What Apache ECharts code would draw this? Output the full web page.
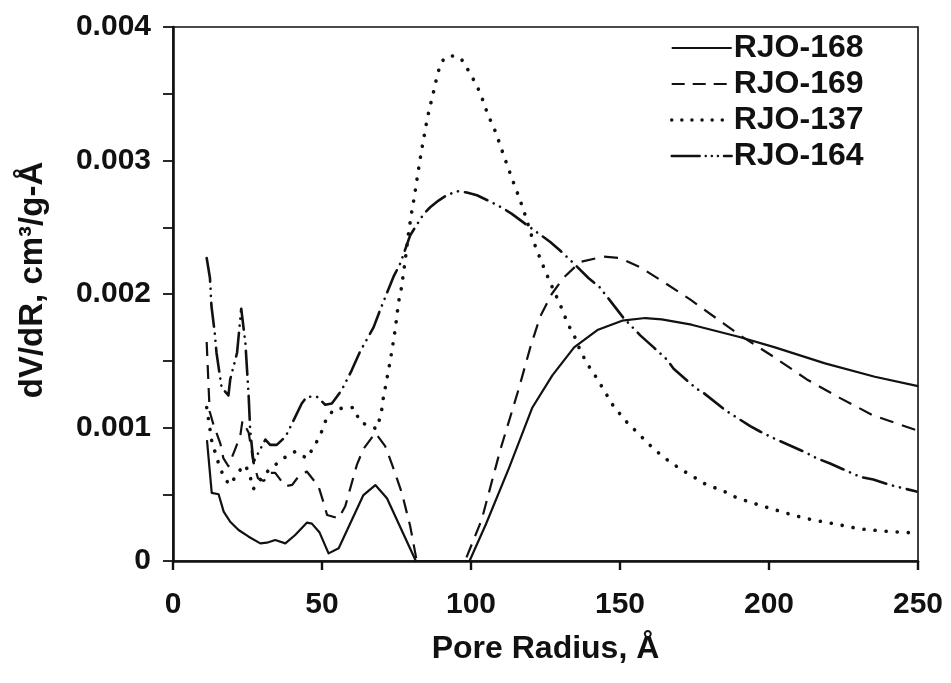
<!DOCTYPE html>
<html>
<head>
<meta charset="utf-8">
<script src="https://cdn.jsdelivr.net/npm/echarts@6/dist/echarts.min.js"></script>
<style>
  html, body { margin: 0; padding: 0; background: #fff; }
  #chart { width: 951px; height: 683px; }
</style>
</head>
<body>
<div id="chart"></div>
<script>
// Pore size distributions: pore radius (Å) and dV/dR (cm3/g-Å) for each sample.
const seriesNames = ['RJO-168', 'RJO-169', 'RJO-137', 'RJO-164'];

const r168 = [11.4, 13.0, 15.3, 17.0, 19.2, 22.0, 25.4, 29.3, 31.5, 34.3, 37.7, 41.0, 44.9, 46.6, 49.2, 52.2, 55.6, 63.9, 67.9, 71.8, 81.5, 99.5, 105, 112.8, 120.6, 127.3, 134.6, 142.4, 150.7, 158.5, 164, 174, 189.8, 202, 218.8, 235.5, 250];
const v168 = [0.000906, 0.00051, 0.0005, 0.00037, 0.000294, 0.000232, 0.000182, 0.000132, 0.000137, 0.000157, 0.000132, 0.000195, 0.000287, 0.00028, 0.000213, 0.000057, 0.000095, 0.000494, 0.000569, 0.00047, 0, 0, 0.000275, 0.0007, 0.00115, 0.00139, 0.0016, 0.00173, 0.0018, 0.00182, 0.00181, 0.00177, 0.00168, 0.0016, 0.00148, 0.00138, 0.00131];

const r169 = [11.3, 12.3, 13.6, 15.9, 16.9, 18.6, 20.9, 22.6, 23.3, 25.4, 27.0, 28.5, 30.5, 32.5, 34.3, 37.7, 40.0, 42.0, 44.9, 48.8, 50.5, 51.7, 55.6, 57.8, 61.7, 63.9, 67.9, 71.2, 73.4, 76.8, 79.6, 81.8, 98, 103.6, 109.8, 115.9, 119.9, 123.2, 127.1, 131, 136.6, 144.4, 150, 156.8, 164.6, 173.5, 184.7, 190.3, 201.5, 212.7, 223.9, 235, 249.5];
const v169 = [0.00164, 0.00112, 0.00102, 0.00088, 0.00077, 0.00071, 0.00084, 0.00094, 0.00105, 0.00096, 0.00074, 0.00062, 0.0006, 0.00066, 0.00066, 0.00056, 0.00057, 0.00063, 0.00067, 0.00056, 0.00044, 0.000345, 0.00032, 0.00041, 0.00072, 0.00084, 0.00096, 0.00086, 0.00073, 0.00051, 0.00026, 0, 0, 0.00031, 0.00083, 0.00128, 0.0016, 0.00183, 0.002, 0.00212, 0.00224, 0.00228, 0.00227, 0.0022, 0.00209, 0.00196, 0.00178, 0.00169, 0.00153, 0.00136, 0.00122, 0.00109, 0.00098];

const r137 = [11.3, 13, 15, 17, 19, 20.3, 22, 24.3, 25.9, 27, 29.3, 32.1, 37.1, 41, 44.9, 47.7, 49.9, 51.7, 54.4, 60.6, 62.8, 68.4, 69.9, 70.5, 71.4, 72.5, 73.5, 74.6, 75.7, 76.7, 77.9, 79.0, 80.0, 81.0, 82.0, 83.0, 84.0, 85.2, 86.3, 87.5, 88.5, 89.7, 91.2, 93, 95, 96.4, 98, 99.2, 102, 104, 105.7, 107.8, 109.4, 111.1, 112.7, 114.5, 116.2, 117.9, 120.7, 122.6, 124.6, 126.3, 130.5, 132.4, 134.6, 136.6, 138.9, 142.2, 147.8, 152.3, 156.8, 161.3, 165.7, 170.2, 174.7, 179.1, 184.2, 188.6, 193.7, 198.1, 202.6, 207.1, 212.1, 216.6, 221.6, 230.6, 240.6, 249];
const v137 = [0.00115, 0.0009, 0.00075, 0.00063, 0.00057, 0.00061, 0.00067, 0.00072, 0.00063, 0.00054, 0.00061, 0.00068, 0.00077, 0.00082, 0.00077, 0.00087, 0.00097, 0.00108, 0.00114, 0.00115, 0.00104, 0.00099, 0.00111, 0.00121, 0.00132, 0.00145, 0.00158, 0.00174, 0.00194, 0.00205, 0.00225, 0.00245, 0.0026, 0.00273, 0.00288, 0.00302, 0.00315, 0.0033, 0.00341, 0.00352, 0.00362, 0.00372, 0.00377, 0.003785, 0.00378, 0.00377, 0.00372, 0.00367, 0.00356, 0.00345, 0.00334, 0.00324, 0.00314, 0.00303, 0.00293, 0.00282, 0.00272, 0.00261, 0.00241, 0.0023, 0.00219, 0.0021, 0.00189, 0.00178, 0.00169, 0.00158, 0.00148, 0.00137, 0.00116, 0.00104, 0.00094, 0.00084, 0.00076, 0.00069, 0.00063, 0.00057, 0.00053, 0.00048, 0.00044, 0.00041, 0.00038, 0.00035, 0.00032, 0.0003, 0.00028, 0.00024, 0.00022, 0.00021];

const r164 = [11.3, 12.4, 12.9, 14.0, 14.6, 16.3, 18.6, 19.2, 21.5, 22.9, 24.3, 25.4, 25.9, 27.0, 31.0, 32.6, 34.8, 37.7, 39.3, 43.2, 44.9, 48.3, 51.1, 53.3, 56.6, 60, 62.8, 67.3, 69.5, 74, 76.3, 79.6, 84.1, 86.3, 89.1, 91.9, 95.3, 98.6, 102, 104.8, 107.5, 110.9, 113.7, 121, 126.6, 129.7, 134.9, 139.4, 143.2, 151.2, 156.8, 161.3, 165.7, 168, 175.7, 178, 185.3, 193.7, 197, 201.5, 212.6, 216, 220.5, 230.6, 235, 240.6, 249.5];
const v164 = [0.00227, 0.00212, 0.00191, 0.00171, 0.00156, 0.0013, 0.00124, 0.00136, 0.00156, 0.00189, 0.00163, 0.00123, 0.00098, 0.00074, 0.00091, 0.00087, 0.00087, 0.00093, 0.001, 0.00118, 0.00123, 0.00123, 0.00117, 0.00118, 0.00128, 0.00143, 0.00157, 0.00175, 0.00188, 0.00213, 0.00223, 0.00244, 0.0026, 0.00265, 0.0027, 0.00274, 0.00277, 0.00276, 0.00274, 0.00271, 0.00268, 0.00264, 0.0026, 0.00248, 0.00239, 0.00233, 0.00222, 0.00212, 0.00205, 0.00182, 0.00169, 0.0016, 0.00151, 0.00144, 0.00129, 0.00126, 0.00113, 0.00101, 0.00097, 0.00092, 0.00081, 0.00077, 0.00073, 0.00063, 0.00061, 0.00057, 0.00052];

const xTicks = { min: 0, max: 250, step: 50 };
const yTicks = { min: 0, max: 0.004, step: 0.001 };

const pairs = (xs, ys) => xs.map((x, i) => [x, ys[i]]);

const FONT = '"Liberation Sans", Arial, sans-serif';
const INK = '#111';

const lineDefs = [
  { x: r168, y: v168, style: { type: 'solid', width: 2.2 } },
  { x: r169, y: v169, style: { type: [14, 9], width: 2.2 } },
  { x: r137, y: v137, style: { type: [0.1, 11], width: 3.6, cap: 'round' } },
  { x: r164, y: v164, style: { type: [24, 7, 0.1, 7, 0.1, 7], width: 2.6, cap: 'round' } }
];

// legend samples use slightly shorter dash patterns so each keeps its look over 60px
const legendStyles = [
  { type: 'solid', width: 2 },
  { type: [13, 8], width: 2 },
  { type: [0.1, 10], width: 3.4, cap: 'round' },
  { type: [28, 6, 0.1, 6, 0.1, 6, 0.1, 6], width: 2.4, cap: 'round' }
];

const chart = echarts.init(document.getElementById('chart'), null, { renderer: 'canvas' });

chart.setOption({
  backgroundColor: '#fff',
  animation: false,
  grid: {
    left: 173, right: 33, top: 27, bottom: 122,
    show: true, borderColor: INK, borderWidth: 1.6, backgroundColor: 'transparent'
  },
  legend: {
    orient: 'vertical',
    left: 665, top: 27,
    itemWidth: 60, itemHeight: 20, itemGap: 4,
    itemStyle: { opacity: 0 },
    textStyle: { fontFamily: FONT, fontWeight: 'bold', fontSize: 32, color: INK, lineHeight: 32, padding: [0, 0, 0, -3] },
    data: seriesNames.map((n, i) => ({ name: n, lineStyle: Object.assign({ color: INK }, legendStyles[i]) }))
  },
  xAxis: {
    type: 'value',
    min: xTicks.min, max: xTicks.max, interval: xTicks.step,
    name: 'Pore Radius, Å',
    nameLocation: 'middle', nameGap: 72,
    nameTextStyle: { fontFamily: FONT, fontWeight: 'bold', fontSize: 32, color: INK },
    axisLine: { show: true, onZero: false, lineStyle: { color: INK, width: 2.6 } },
    axisTick: { show: true, inside: false, length: 9, lineStyle: { color: INK, width: 2.4 } },
    axisLabel: { margin: 29, fontFamily: FONT, fontWeight: 'bold', fontSize: 30, color: INK },
    splitLine: { show: false }
  },
  yAxis: {
    type: 'value',
    min: yTicks.min, max: yTicks.max, interval: yTicks.step,
    name: 'dV/dR, cm³/g-Å',
    nameLocation: 'middle', nameGap: 124,
    nameTextStyle: { fontFamily: FONT, fontWeight: 'bold', fontSize: 33, color: INK, padding: [0, 0, 0, 28] },
    axisLine: { show: true, lineStyle: { color: INK, width: 2.6 } },
    axisTick: { show: true, inside: false, length: 10, lineStyle: { color: INK, width: 1.8 } },
    minorTick: { show: true, splitNumber: 2, length: 10, lineStyle: { color: INK, width: 1.8 } },
    axisLabel: {
      margin: 22, fontFamily: FONT, fontWeight: 'bold', fontSize: 30, color: INK,
      formatter: v => (v === 0 ? '0' : v.toFixed(3))
    },
    splitLine: { show: false }
  },
  series: lineDefs.map((d, i) => ({
    name: seriesNames[i],
    type: 'line',
    data: pairs(d.x, d.y),
    showSymbol: false,
    symbol: 'none',
    smooth: false,
    clip: true,
    itemStyle: { color: INK },
    lineStyle: Object.assign({ color: INK, join: 'round' }, d.style)
  }))
});
</script>
</body>
</html>
